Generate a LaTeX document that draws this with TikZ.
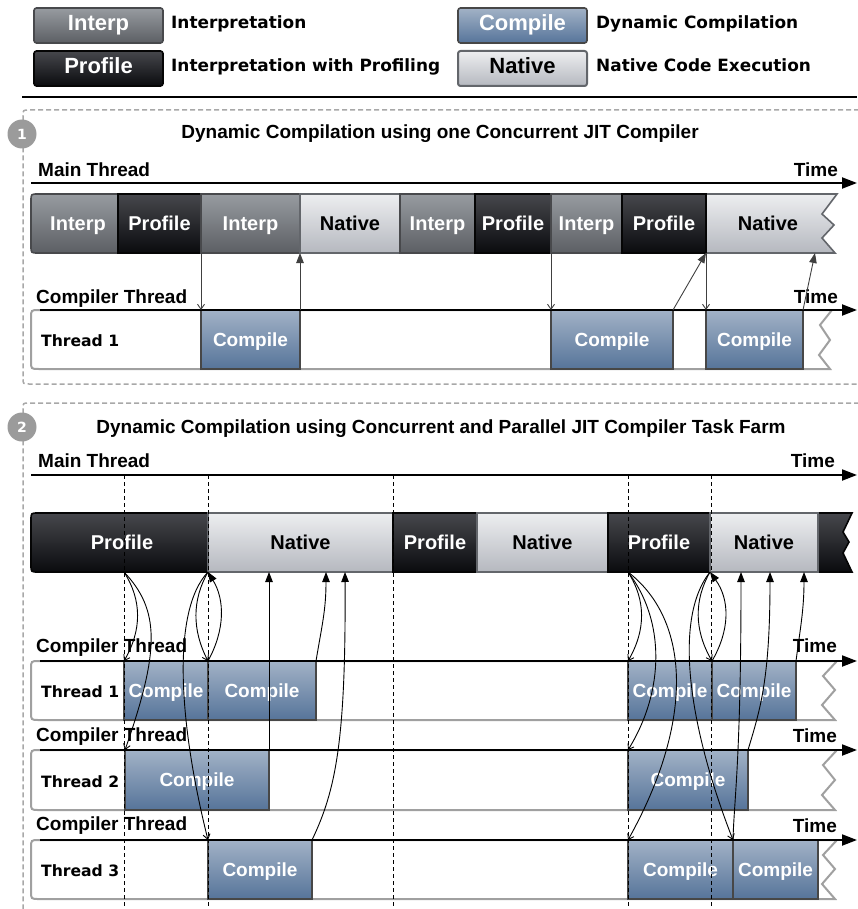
\documentclass[tikz,border=0pt]{standalone}
\usepackage{fontspec}
\setmainfont{Liberation Sans}
\newfontfamily\lucid{DejaVu Sans}
\usetikzlibrary{arrows.meta}

\definecolor{interpT}{HTML}{979BA0}
\definecolor{interpB}{HTML}{5C5F64}
\definecolor{interpD}{HTML}{48494C}
\definecolor{profT}{HTML}{46474C}
\definecolor{profB}{HTML}{0A0B0E}
\definecolor{profD}{HTML}{050505}
\definecolor{natT}{HTML}{EDEEF0}
\definecolor{natB}{HTML}{B5B8BF}
\definecolor{natD}{HTML}{63666B}
\definecolor{compT}{HTML}{A2B2C6}
\definecolor{compB}{HTML}{56749A}
\definecolor{compD}{HTML}{474747}
\definecolor{frameC}{HTML}{A8A8A8}
\definecolor{laneD}{HTML}{A0A0A0}
\definecolor{badgeC}{HTML}{9B9B9B}

\tikzset{
  blk/.style={line width=1.6pt, inner sep=0pt, outer sep=0pt,
    text height=13pt, text depth=0pt,
    font=\fontsize{20}{24}\selectfont\bfseries},
  interp/.style={blk, top color=interpT, bottom color=interpB, draw=interpD, text=white},
  prof/.style={blk, top color=profT, bottom color=profB, draw=profD, text=white},
  native/.style={blk, top color=natT, bottom color=natB, draw=natD, text=black},
  comp/.style={blk, top color=compT, bottom color=compB, draw=compD, text=white,
    line width=2pt, font=\fontsize{19}{22}\selectfont\bfseries},
  legend/.style={rounded corners=2.5pt, text height=10.5pt, text depth=0pt,
    font=\fontsize{22}{26}\selectfont\bfseries},
  segtxt/.style={inner sep=0pt, text height=13pt, text depth=0pt,
    font=\fontsize{20}{24}\selectfont\bfseries},
  lbl/.style={font=\fontsize{19}{22}\selectfont\bfseries, inner sep=0pt},
  thr/.style={font=\lucid\fontsize{15.6}{18}\selectfont\bfseries, inner sep=0pt, anchor=base west},
  legtxt/.style={font=\lucid\fontsize{16.9}{20}\selectfont\bfseries, inner sep=0pt, anchor=base west},
  timeline/.style={line width=2pt, -{Triangle[length=15pt,width=11pt]}},
  secbox/.style={draw=frameC, line width=1.5pt, dash pattern=on 5pt off 3pt},
  lane/.style={draw=laneD, line width=2pt, fill=white},
  guide/.style={dash pattern=on 4pt off 3pt, line width=0.9pt},
  req/.style={line width=0.9pt, -{Straight Barb[length=5pt,width=7pt]}},
  ret/.style={line width=0.9pt, -{Triangle[length=10pt,width=7.5pt]}},
  badge/.style={circle, fill=badgeC, text=white, minimum size=29pt, inner sep=0pt,
    font=\lucid\fontsize{14}{16}\selectfont\bfseries},
}

% box from (x1,y1) to (x2,y2): style, name, x1, x2, y1, y2, text
\newcommand\segbox[7]{\node[#1,minimum width={#4pt-#3pt},minimum height={#6pt-#5pt},anchor=north west] (#2) at (#3,#5) {#7};}

\begin{document}
\begin{tikzpicture}[x=1pt,y=-1pt]
\useasboundingbox (0,0) rectangle (857,909);

% ---------- legend ----------
\segbox{interp,legend}{lgI}{34}{163}{8}{43}{Interp}
\segbox{prof,legend}{lgP}{34}{163}{51}{86}{Profile}
\segbox{comp,legend,line width=1.6pt}{lgC}{458}{587}{8}{43}{Compile}
\segbox{native,legend,line width=2pt}{lgN}{458}{587}{51}{86}{Native}
\node[legtxt] (lgIt) at (171,29) {Interpretation};
\node[legtxt] (lgPt) at (171,72) {Interpretation with Profiling};
\node[legtxt] (lgCt) at (596,29) {Dynamic Compilation};
\node[legtxt] (lgNt) at (596,72) {Native Code Execution};
\draw[line width=2.2pt] (22,97) -- (857,97);

% ---------- section frames ----------
\draw[secbox] (875,110) -- (29,110) .. controls (23,110) .. (23,116) -- (23,378)
  .. controls (23,384) .. (29,384) -- (875,384);
\draw[secbox] (875,403) -- (29,403) .. controls (23,403) .. (23,409) -- (23,925);

% =========== section 1 ===========
\node[badge] (b1) at (22,134) {1};
\node[lbl, anchor=base] (t1) at (440,139) {Dynamic Compilation using one Concurrent JIT Compiler};

% compiler lane
\draw[lane] (832,310) -- (39,310) .. controls (31,310) .. (31,318) -- (31,361)
  .. controls (31,369) .. (39,369) -- (830,369) -- (819,355) -- (830,340) -- (820,325) -- cycle;
\segbox{comp}{c1}{201}{300}{310}{369}{Compile}
\segbox{comp}{c2}{551}{673}{310}{369}{Compile}
\segbox{comp}{c3}{706}{803}{310}{369}{Compile}

% main thread bar
\shade[interp] (118,194) -- (38,194) .. controls (31,194) .. (31,201) -- (31,246)
  .. controls (31,253) .. (38,253) -- (118,253) -- cycle;
\shade[native] (706,194) -- (837,194) -- (822,214) -- (834,225) -- (822,238) -- (835,253) -- (706,253) -- cycle;
\node[segtxt, text=white] (i1) at (78,223.5) {Interp};
\node[segtxt] (n2) at (768,223.5) {Native};
\segbox{prof}{p1}{118}{201}{194}{253}{Profile}
\segbox{interp}{i2}{201}{300}{194}{253}{Interp}
\segbox{native}{n1}{300}{400}{194}{253}{Native}
\segbox{interp}{i3}{400}{475}{194}{253}{Interp}
\segbox{prof}{p2}{475}{551}{194}{253}{Profile}
\segbox{interp}{i4}{551}{622}{194}{253}{Interp}
\segbox{prof}{p3}{622}{706}{194}{253}{Profile}
\coordinate (n2in) at (815,253);

% time axes
\draw[timeline] (31,183) -- (857,183);
\draw[timeline] (40,310) -- (857,310);
\node[lbl, anchor=base west] (m1) at (38,177) {Main Thread};
\node[lbl, anchor=base east] (tm1) at (838,177) {Time};
\node[lbl, anchor=base west] (ct1) at (36,303) {Compiler Thread};
\node[lbl, anchor=base east] (tc1) at (838,303) {Time};
\node[thr] (th1) at (41,346) {Thread 1};

% hand-offs
\begin{scope}[draw=black!75]
\draw[req] (p1.south east) -- (c1.north west);
\draw[ret] (c1.north east) -- (n1.south west);
\draw[req] (p2.south east) -- (c2.north west);
\draw[ret] (c2.north east) -- (p3.south east);
\draw[req] (p3.south east) -- (c3.north west);
\draw[ret] (c3.north east) -- (n2in);
\end{scope}

% =========== section 2 ===========
\node[badge] (b2) at (22,427) {2};
\node[lbl, anchor=base] (t2) at (441,433) {Dynamic Compilation using Concurrent and Parallel JIT Compiler Task Farm};

% compiler lanes
\draw[lane] (837,661) -- (39,661) .. controls (31,661) .. (31,669) -- (31,712)
  .. controls (31,720) .. (39,720) -- (835,720) -- (822,705) -- (835,690) -- (823,676) -- cycle;
\draw[lane] (837,750) -- (39,750) .. controls (31,750) .. (31,758) -- (31,802)
  .. controls (31,810) .. (39,810) -- (835,810) -- (822,795) -- (835,780) -- (823,765) -- cycle;
\draw[lane] (837,840) -- (39,840) .. controls (31,840) .. (31,848) -- (31,891)
  .. controls (31,899) .. (39,899) -- (835,899) -- (822,884) -- (835,869) -- (823,855) -- cycle;

\segbox{comp}{k11}{124}{208}{661}{720}{Compile}
\segbox{comp}{k12}{208}{316}{661}{720}{Compile}
\segbox{comp}{k13}{628}{712}{661}{720}{Compile}
\segbox{comp}{k14}{712}{796}{661}{720}{Compile}
\segbox{comp}{k21}{125}{269}{750}{810}{Compile}
\segbox{comp}{k22}{628}{748}{750}{810}{Compile}
\segbox{comp}{k31}{208}{312}{840}{899}{Compile}
\segbox{comp}{k32}{628}{733}{840}{899}{Compile}
\segbox{comp}{k33}{733}{818}{840}{899}{Compile}

% main thread bar
\shade[prof] (208,513) -- (38,513) .. controls (31,513) .. (31,520) -- (31,565)
  .. controls (31,572) .. (38,572) -- (208,572) -- cycle;
\shade[prof] (818,513) -- (852,513) -- (843,532) -- (849,542) -- (843,553) -- (852,572) -- (818,572) -- cycle;
\node[segtxt, text=white] (pr1) at (122,542.5) {Profile};
\segbox{native}{na1}{208}{393}{513}{572}{Native}
\segbox{prof}{pr2}{393}{477}{513}{572}{Profile}
\segbox{native}{na2}{477}{608}{513}{572}{Native}
\segbox{prof}{pr3}{608}{710}{513}{572}{Profile}
\segbox{native}{na3}{710}{818}{513}{572}{Native}

% time axes
\draw[timeline] (31,475) -- (857,475);
\draw[timeline] (40,661) -- (857,661);
\draw[timeline] (40,750) -- (857,750);
\draw[timeline] (40,840) -- (857,840);
\node[lbl, anchor=base west] (m2) at (38,467) {Main Thread};
\node[lbl, anchor=base east] (tm2) at (835,467) {Time};
\node[lbl, anchor=base west] (ct21) at (36,652) {Compiler Thread};
\node[lbl, anchor=base east] (tc21) at (837,652) {Time};
\node[lbl, anchor=base west] (ct22) at (36,741) {Compiler Thread};
\node[lbl, anchor=base east] (tc22) at (837,742) {Time};
\node[lbl, anchor=base west] (ct23) at (36,830) {Compiler Thread};
\node[lbl, anchor=base east] (tc23) at (837,832) {Time};
\node[thr] (th21) at (41,697) {Thread 1};
\node[thr] (th22) at (41,787) {Thread 2};
\node[thr] (th23) at (41,876) {Thread 3};

% event guides
\foreach \gx in {124,208,393,628,711}
  \draw[guide] (\gx,475) -- (\gx,912);

% event points on the main thread
\coordinate (e1) at (124,572);
\coordinate (e3) at (628,572);
\coordinate (u1) at (326,572);
\coordinate (u2) at (345,572);
\coordinate (u4) at (741,572);
\coordinate (u5) at (770,572);
\coordinate (u6) at (804,572);

% first burst
\draw[req] (e1) .. controls (142,600) and (142,630) .. (k11.north west);
\draw[req] (e1) .. controls (160,610) and (160,650) .. (k21.north west);
\draw[req] (na1.south west) .. controls (192,600) and (192,630) .. (k12.north west);
\draw[ret] (k11.north east) .. controls (225,630) and (225,600) .. (na1.south west);
\draw[req] (na1.south west) .. controls (172,610) and (178,720) .. (k31.north west);
\draw[ret] (k21.north east) -- (k21.north east |- na1.south);
\draw[ret] (k12.north east) .. controls (322,625) and (326,610) .. (u1);
\draw[ret] (k31.north east) .. controls (336,790) and (346,740) .. (u2);

% second burst
\draw[req] (e3) .. controls (646,600) and (646,630) .. (k13.north west);
\draw[req] (e3) .. controls (665,620) and (665,690) .. (k22.north west);
\draw[req] (e3) .. controls (690,620) and (695,720) .. (k32.north west);
\draw[req] (na3.south west) .. controls (694,600) and (694,630) .. (k14.north west);
\draw[ret] (k13.north east) .. controls (730,630) and (730,600) .. (na3.south west);
\draw[req] (na3.south west) .. controls (672,620) and (690,730) .. (k33.north west);
\draw[ret] (k32.north east) .. controls (734,800) and (741,760) .. (u4);
\draw[ret] (k22.north east) .. controls (760,710) and (770,680) .. (u5);
\draw[ret] (k14.north east) .. controls (800,630) and (804,610) .. (u6);
\end{tikzpicture}
\end{document}
